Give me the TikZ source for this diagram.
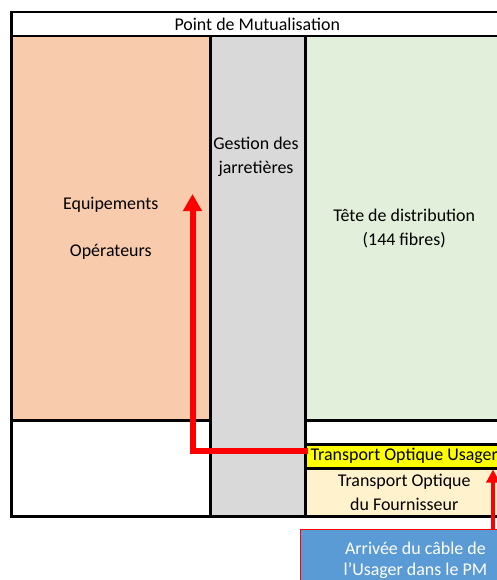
\documentclass[tikz,border=0pt]{standalone}
\usepackage{fontspec}
\setmainfont{Carlito}
\usetikzlibrary{positioning,arrows.meta}
\definecolor{PMOrange}{HTML}{F8CBAD}
\definecolor{PMGray}{HTML}{D9D9D9}
\definecolor{PMGreen}{HTML}{E2EFDA}
\definecolor{PMYellow}{HTML}{FFFF00}
\definecolor{PMCream}{HTML}{FFF2CC}
\definecolor{PMBlue}{HTML}{5B9BD5}
\definecolor{PMRed}{HTML}{FF0000}

\begin{document}
\begin{tikzpicture}[x=1bp, y=-1bp,
    cell/.style={draw, line width=2.5bp, anchor=north west, inner sep=0pt, align=center, font=\fontsize{18}{24}\selectfont},
    cable/.style={draw=PMRed, line width=6bp, -{Triangle[width=18bp,length=17bp]}},
    thincable/.style={draw=PMRed, line width=4.5bp, -{Triangle[width=13bp,length=13bp]}}]
    \useasboundingbox (0,0) rectangle (497,580);
    \clip (0,0) rectangle (497,580);

    \node[cell, minimum width=492bp, minimum height=24bp] (titre) at (10,11) {Point de Mutualisation};
    \node[cell, fill=PMOrange, minimum width=199bp, minimum height=384bp] (equip) at (10,35) {Equipements\\[24bp]Opérateurs};
    \node[cell, fill=PMGray, minimum width=95bp, minimum height=480bp] (jarr) at (209,35) {};
    \node[cell, fill=PMGreen, minimum width=198bp, minimum height=384bp] (tete) at (304,35) {Tête de distribution\\(144 fibres)};
    \node[cell, minimum width=199bp, minimum height=96bp] (vide) at (10,419) {};
    \node[cell, minimum width=198bp, minimum height=24bp] (libre) at (304,419) {};
    \node[cell, fill=PMYellow, minimum width=198bp, minimum height=24bp] (tou) at (304,443) {Transport Optique Usager};
    \node[cell, fill=PMCream, minimum width=198bp, minimum height=48bp] (tof) at (304,467) {Transport Optique\\du Fournisseur};
    \node[align=center, font=\fontsize{18}{24}\selectfont] (jarrtxt) at (256,157) {Gestion des\\jarretières};

    \node[draw=PMRed, line width=0.8bp, fill=PMBlue, text=white, anchor=north west, minimum width=230bp, minimum height=62bp, inner sep=0pt, align=center, font=\fontsize{18}{21}\selectfont] (arrivee) at (300,529) {Arrivée du câble de\\l'Usager dans le PM};

    % cables
    \coordinate (coude) at (192.5,451);
    \coordinate (pointe) at (192.5,194);
    \coordinate (entree) at (493,0);
    \draw[cable] ([xshift=4bp]tou.west |- coude) -- (coude) -- (pointe);
    \draw[thincable] (arrivee.north -| entree) -- (tou.south -| entree);
\end{tikzpicture}
\end{document}
